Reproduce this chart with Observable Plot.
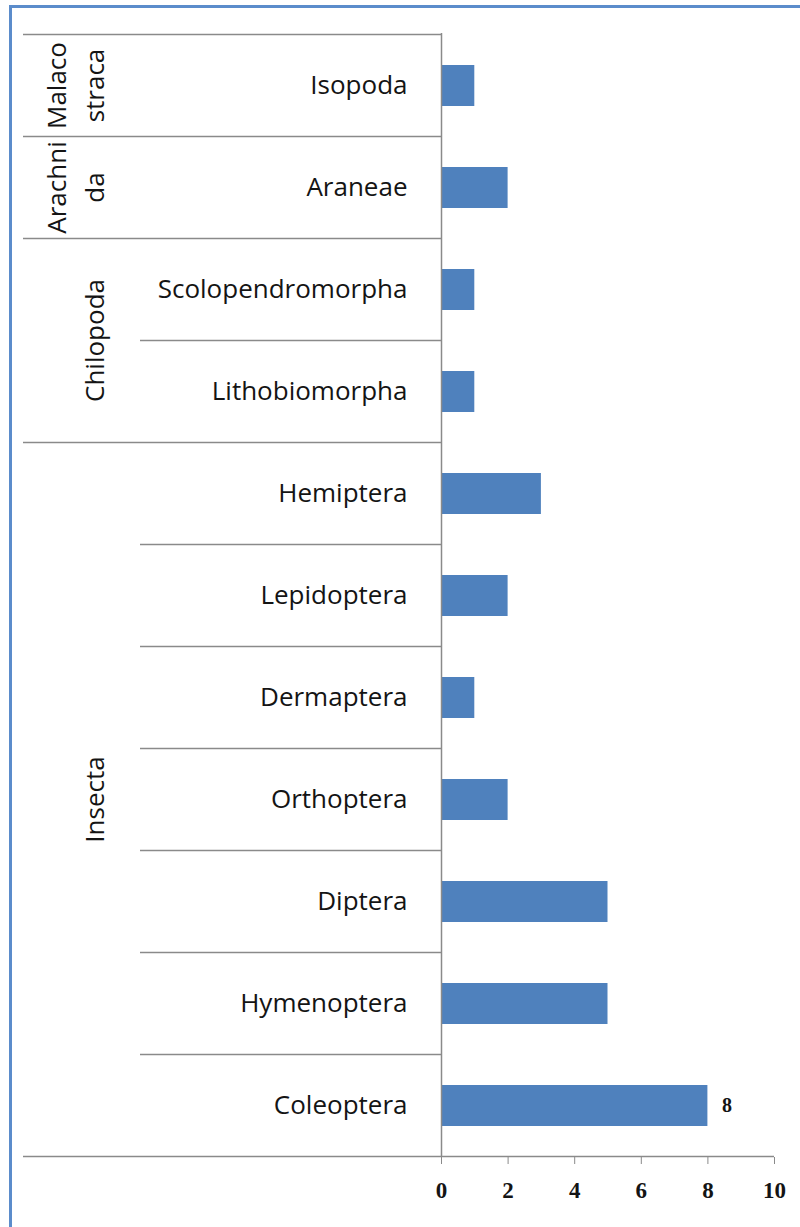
<!DOCTYPE html>
<html>
<head>
<meta charset="utf-8">
<script src="https://cdn.jsdelivr.net/npm/d3@7"></script>
<script src="https://cdn.jsdelivr.net/npm/@observablehq/plot@0.6"></script>
<style>
  html, body { margin: 0; padding: 0; background: #fff; }
  #wrap { position: relative; width: 800px; height: 1227px; overflow: hidden; }
  #border { position: absolute; left: 9px; top: 5px; width: 820px; height: 1240px;
            border-left: 3px solid #5B8CCB; border-top: 3px solid #5B8CCB; pointer-events: none; }
  #chart { position: absolute; left: 0; top: 0; }
</style>
</head>
<body>
<div id="wrap"><div id="chart"></div><div id="border"></div></div>
<script>
// ---- data ----
const orders = ["Isopoda", "Araneae", "Scolopendromorpha", "Lithobiomorpha", "Hemiptera",
                "Lepidoptera", "Dermaptera", "Orthoptera", "Diptera", "Hymenoptera", "Coleoptera"];
const classes = ["Malacostraca", "Arachnida", "Chilopoda", "Chilopoda", "Insecta",
                 "Insecta", "Insecta", "Insecta", "Insecta", "Insecta", "Insecta"];
const counts = [1, 2, 1, 1, 3, 2, 1, 2, 5, 5, 8];
const groupNames = ["Malacostraca", "Arachnida", "Chilopoda", "Insecta"];
const groupLabelLines = [["Malaco", "straca"], ["Arachni", "da"], ["Chilopoda"], ["Insecta"]];
const xTicks = [0, 2, 4, 6, 8, 10];
const labelledOrders = ["Coleoptera"];

const data = orders.map((o, i) => ({order: o, cls: classes[i], count: counts[i]}));

const lineColor = "#8a8a8a";
const textColor = "#141414";
const sansFont = "'Open Sans', 'Noto Sans', sans-serif";
const serifFont = "'Liberation Serif', 'DejaVu Serif', serif";

// table layout (pixel columns of the category table)
const tableLeft = 23, innerLeft = 140;
const labelCols2 = [57, 95], labelCol1 = 95;

function tableMark(index, scales) {
  const {x, y} = scales;
  const step = y(orders[1]) - y(orders[0]);
  const bw = typeof y.bandwidth === "function" ? y.bandwidth() : 0.4 * step;
  const pad = (step - bw) / 2;
  const top = i => y(orders[i]) - pad;           // upper boundary of row i
  const g = d3.create("svg:g");
  const x0 = x(0);
  for (let i = 0; i <= orders.length; i++) {
    const yy = i < orders.length ? top(i) : y(orders[orders.length - 1]) + bw + pad;
    let x1;
    if (i === 0 || i === orders.length || classes[i] !== classes[i - 1]) x1 = tableLeft;
    else x1 = innerLeft;
    const x2 = i === orders.length ? x(10) : x0;
    g.append("line").attr("x1", x1).attr("x2", x2).attr("y1", yy).attr("y2", yy)
      .attr("stroke", lineColor).attr("stroke-width", 1.5);
  }
  groupNames.forEach((gn, k) => {
    const idx = classes.map((c, i) => c === gn ? i : -1).filter(i => i >= 0);
    const y1 = top(idx[0]);
    const y2 = y(orders[idx[idx.length - 1]]) + bw + pad;
    const cy = (y1 + y2) / 2;
    const lines = groupLabelLines[k];
    const cols = lines.length === 2 ? labelCols2 : [labelCol1];
    lines.forEach((t, j) => {
      g.append("text").attr("transform", `translate(${cols[j]},${cy}) rotate(-90)`)
        .attr("text-anchor", "middle").attr("dy", "0.35em")
        .attr("font-family", sansFont).attr("font-size", 26).attr("fill", textColor)
        .text(t);
    });
  });
  return g.node();
}

const chart = Plot.plot({
  width: 800,
  height: 1227,
  marginLeft: 441,
  marginRight: 26,
  marginTop: 33,
  marginBottom: 70,
  style: {background: "transparent", fontFamily: sansFont},
  x: {domain: [0, 10], ticks: xTicks},
  y: {domain: orders, paddingInner: 0.6, paddingOuter: 0.3},
  marks: [
    tableMark,
    Plot.barX(data, {x: "count", y: "order", fill: "#4F81BD"}),
    Plot.ruleX([0], {stroke: lineColor, strokeWidth: 1.5}),
    Plot.axisY({tickSize: 0, tickPadding: 34, fontSize: 26, fontFamily: sansFont, fill: textColor, label: null}),
    Plot.axisX({ticks: xTicks, tickSize: 7, tickFormat: () => "", stroke: lineColor, label: null}),
    Plot.text(xTicks, {x: d => d, frameAnchor: "bottom", dy: 40, text: d => String(d),
                       fontSize: 23, fontFamily: serifFont, fontWeight: "bold", fill: textColor}),
    Plot.text(data.filter(d => labelledOrders.includes(d.order)),
              {x: "count", y: "order", text: d => String(d.count), dx: 19, textAnchor: "middle",
               fontSize: 20, fontFamily: serifFont, fontWeight: "bold", fill: textColor})
  ]
});
document.getElementById("chart").appendChild(chart);
</script>
</body>
</html>
